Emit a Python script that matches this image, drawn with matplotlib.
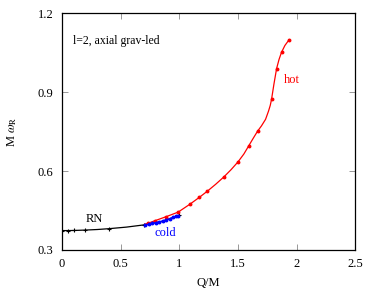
import matplotlib
matplotlib.use("Agg")
import matplotlib.pyplot as plt

plt.rcParams['font.family'] = ['Liberation Serif', 'DejaVu Serif']
plt.rcParams['mathtext.fontset'] = 'stix'

# RN branch (black)
rn_q = [0.0, 0.05, 0.1, 0.2, 0.3, 0.4, 0.55, 0.7, 0.85, 1.0]
rn_w = [0.3737, 0.3738, 0.3742, 0.3757, 0.3778, 0.381, 0.387, 0.3955, 0.408, 0.432]
rn_mark_q = [0.0, 0.05, 0.1, 0.2, 0.4, 0.7, 1.0]
rn_mark_w = [0.3737, 0.3738, 0.3742, 0.3757, 0.381, 0.3955, 0.432]

# cold branch (blue)
cold_q = [0.71, 0.74, 0.77, 0.80, 0.83, 0.86, 0.89, 0.92, 0.95, 0.97, 0.99]
cold_w = [0.395, 0.398, 0.401, 0.404, 0.407, 0.411, 0.415, 0.419, 0.424, 0.428, 0.431]

# hot branch (red): curve and marked points
hot_q = [0.705, 0.73, 0.79, 0.89, 0.99, 1.09, 1.17, 1.24, 1.31, 1.38, 1.44, 1.50,
         1.55, 1.59, 1.63, 1.667, 1.70, 1.735, 1.76, 1.775, 1.786, 1.806, 1.829,
         1.85, 1.871, 1.90, 1.936]
hot_w = [0.398, 0.401, 0.411, 0.427, 0.444, 0.474, 0.500, 0.524, 0.550, 0.578,
         0.605, 0.635, 0.665, 0.695, 0.725, 0.752, 0.772, 0.797, 0.828, 0.850,
         0.873, 0.93, 0.99, 1.025, 1.052, 1.078, 1.10]
hot_mark_q = [0.73, 0.79, 0.89, 0.99, 1.09, 1.17, 1.24, 1.38, 1.50, 1.59, 1.667,
              1.786, 1.829, 1.871, 1.936]
hot_mark_w = [0.401, 0.411, 0.427, 0.444, 0.474, 0.500, 0.524, 0.578, 0.635,
              0.695, 0.752, 0.873, 0.99, 1.052, 1.10]

fig = plt.figure(figsize=(3.78, 2.91), dpi=100)
ax = fig.add_axes([0.164, 0.141, 0.776, 0.813])

ax.plot(rn_q, rn_w, '-', color='black', lw=0.9)
ax.plot(rn_mark_q, rn_mark_w, '+', color='black', ms=3, mew=0.8)
ax.plot(hot_q, hot_w, '-', color='red', lw=0.9)
ax.plot(hot_mark_q, hot_mark_w, 'o', color='red', ms=1.8)
ax.plot(cold_q, cold_w, '-o', color='blue', lw=0.9, ms=1.8)

ax.set_xlim(0, 2.5)
ax.set_ylim(0.3, 1.2)
ax.set_xticks([0, 0.5, 1, 1.5, 2, 2.5])
ax.set_xticklabels(['0', '0.5', '1', '1.5', '2', '2.5'])
ax.set_yticks([0.3, 0.6, 0.9, 1.2])
ax.tick_params(direction='in', top=True, right=True, length=4, width=0.6,
               labelsize=9, color='#888888', pad=6)
for s in ax.spines.values():
    s.set_linewidth(0.9)

ax.set_xlabel('Q/M', fontsize=9)
ax.set_ylabel(r'M $\omega_{\rm R}$', fontsize=9)
ax.xaxis.set_label_coords(0.5, -0.115)
ax.yaxis.set_label_coords(-0.147, 0.5)

ax.text(0.09, 1.085, 'l=2, axial grav-led', fontsize=8.5)
ax.text(1.89, 0.935, 'hot', color='red', fontsize=9)
ax.text(0.79, 0.355, 'cold', color='blue', fontsize=9)
ax.text(0.2, 0.405, 'RN', color='black', fontsize=9)

fig.savefig('out.png', dpi=100)
